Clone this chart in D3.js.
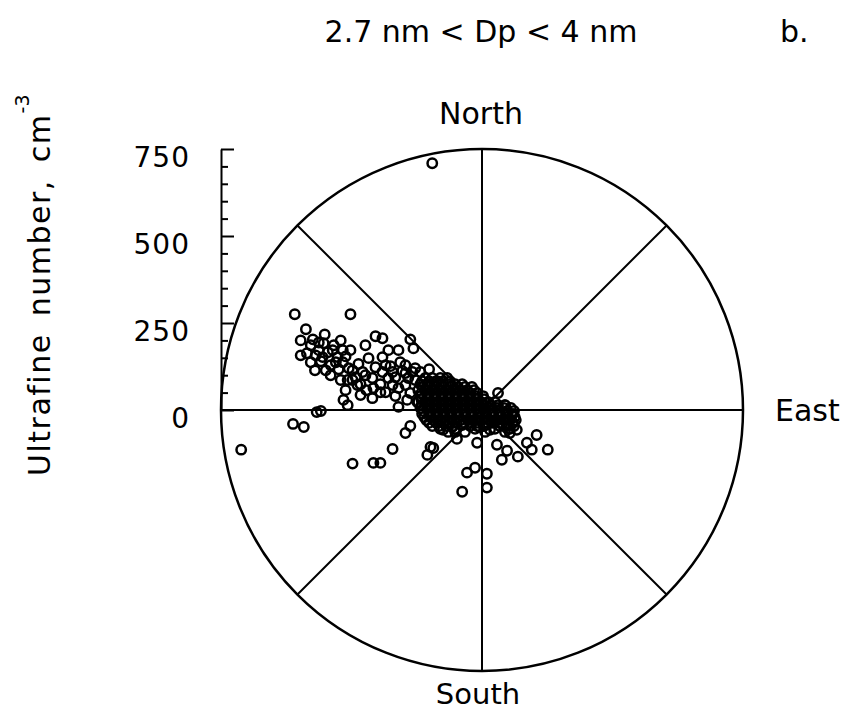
<!DOCTYPE html>
<html><head><meta charset="utf-8">
<script src="https://cdn.jsdelivr.net/npm/d3@7"></script>
<style>
html,body{margin:0;padding:0;background:#fff;}
svg text{font-family:"DejaVu Sans",sans-serif;fill:#000;}
</style></head>
<body><svg id="chart" width="856" height="726"></svg>
<script>
// ---- Data (east / north components of ultrafine number, cm^-3) ----
const titleText = "2.7 nm < Dp < 4 nm";
const panelLabel = "b.";
const yAxisLabel = "Ultrafine number, cm";
const directionLabels = ["North", "East", "South"];
const majorTicks = [0, 250, 500, 750];
const minorTicks = [50,100,150,200,300,350,400,450,550,600,650,700];
const maxValue = 750;
const sectorAngles = [0, 45, 90, 135, 180, 225, 270, 315];

// scattered points
const eastScatter = [-538,-378,-506,-452,-486,-426,-503,-469,-443,-415,-463,-435,-412,-480,-386,-392,-398,-475,-463,-543,-512,-692,-372,-312,-292,-257,
 -306,-286,-206,-197,-269,-240,-286,-326,-355,-383,-306,-335,-363,-152,-257,-229,-200,-177,-332,-312,-249,-315,-240,-129,-372,-386,-269,-249,
 -492,-478,-455,-420,-400,-349,-292,-277,-220,-206,-143,-215,-186,-220,-206,-157,-140,-148,-77,-72,-43,-20,-57,14,14,-14,46,
 43,72,57,103,157,129,143,189,89,100,80,-6,23,37,-112,-86,-57,-220,66,86,
 -235,-277,-257,-192,-378,-335,-406,-435,-521,-400,
 -521,-492,-458,-429,-392,-372,-343,-315,-286,-263,-220,-292,-240,-212,-192,-349,-449,-406,-469,-358];
const northScatter = [275,275,232,217,203,186,163,172,166,152,140,129,117,114,86,57,29,-6,-3,-40,-49,-114,-154,-152,-152,-112,
 212,206,203,177,172,172,152,149,132,120,123,100,94,117,109,112,109,109,57,63,40,34,9,83,86,14,92,94,
 186,157,192,137,137,74,74,51,72,49,709,29,23,-66,-46,-129,-109,-106,-63,-83,-180,-166,-235,-183,-223,-94,49,
 -100,-117,-143,-134,-72,-94,-114,-114,-37,-57,-66,-49,-57,-34,-57,-49,-43,106,14,-14,
 137,129,72,86,172,186,86,100,200,172,
 157,137,152,172,154,114,109,92,109,126,129,51,63,92,120,43,114,200,194,72];

// dense core near the origin (two interleaved rows of readings)
const eastCore = [-163,-143,-120,-100,
 -177,-157,-137,-117,-97,-77,-57,
 -183,-163,-143,-123,-103,-83,-63,-43,-23,
 -177,-157,-137,-117,-97,-77,-57,-37,-17,3,
 -183,-163,-143,-123,-103,-83,-63,-43,-23,-3,17,37,
 -177,-157,-137,-117,-97,-77,-57,-37,-17,3,23,43,63,83,
 -172,-152,-132,-112,-92,-72,-51,-31,-11,9,29,49,69,89,
 -160,-140,-120,-100,-80,-60,-40,-20,0,20,40,60,80,97,
 -143,-123,-103,-83,-34,-14,6,51,72,92,
 -97,-49,9,66,
 -172,-152,-132,-112,-92,
 -169,-149,-129,-109,-89,-69,-49,-29,
 -174,-154,-134,-114,-94,-74,-54,-34,-14,
 -174,-154,-134,-114,-94,-74,-54,-34,-14,6,
 -174,-154,-134,-114,-94,-74,-54,-34,-14,6,26,46,66,
 -169,-149,-129,-109,-89,-69,-49,-29,-9,11,31,51,72,92,
 -166,-146,-126,-106,-86,-66,-46,-26,-6,14,34,54,74,94,
 -152,-132,-112,-92,-72,-51,-31,-11,9,29,49,69,89,
 -120,-77,-20,37,80];
const northCore = [92,92,92,92,
 74,74,74,74,74,74,74,
 57,57,57,57,57,57,57,57,57,
 40,40,40,40,40,40,40,40,40,40,
 23,23,23,23,23,23,23,23,23,23,23,23,
 6,6,6,6,6,6,6,6,6,6,6,6,6,6,
 -11,-11,-11,-11,-11,-11,-11,-11,-11,-11,-11,-11,-11,-11,
 -29,-29,-29,-29,-29,-29,-29,-29,-29,-29,-29,-29,-29,-29,
 -46,-46,-46,-46,-46,-46,-46,-46,-46,-46,
 -63,-63,-63,-63,
 83,83,83,83,83,
 66,66,66,66,66,66,66,66,
 49,49,49,49,49,49,49,49,49,
 31,31,31,31,31,31,31,31,31,31,
 14,14,14,14,14,14,14,14,14,14,14,14,14,
 -3,-3,-3,-3,-3,-3,-3,-3,-3,-3,-3,-3,-3,-3,
 -20,-20,-20,-20,-20,-20,-20,-20,-20,-20,-20,-20,-20,-20,
 -37,-37,-37,-37,-37,-37,-37,-37,-37,-37,-37,-37,-37,
 -54,-54,-54,-54,-54];

// ---- Layout ----
const svg = d3.select("#chart");
const cx = 482, cy = 410, R = 261;
const x = d3.scaleLinear().domain([-maxValue, maxValue]).range([cx - R, cx + R]);
const y = d3.scaleLinear().domain([-maxValue, maxValue]).range([cy + R, cy - R]);
const r = d3.scaleLinear().domain([0, maxValue]).range([0, R]);

const g = svg.append("g");

// sector lines
g.selectAll("line.sector").data(sectorAngles).join("line")
  .attr("class", "sector")
  .attr("x1", cx).attr("y1", cy)
  .attr("x2", d => cx + r(maxValue) * Math.sin(d * Math.PI / 180))
  .attr("y2", d => cy - r(maxValue) * Math.cos(d * Math.PI / 180))
  .attr("stroke", "#000").attr("stroke-width", 2);

// outer circle
g.append("circle").attr("cx", cx).attr("cy", cy).attr("r", r(maxValue))
  .attr("fill", "none").attr("stroke", "#000").attr("stroke-width", 2.5);

// y axis (0..750) on the left edge
const yAxisScale = d3.scaleLinear().domain([0, maxValue]).range([cy, cy - R]);
const axisX = cx - R;
g.append("g").attr("transform", `translate(${axisX},0)`)
  .call(d3.axisLeft(yAxisScale).tickValues(minorTicks).tickSizeInner(-7).tickSizeOuter(0).tickFormat(""))
  .call(a => a.selectAll("line").attr("stroke", "#000").attr("stroke-width", 2))
  .call(a => a.select(".domain").attr("stroke", "#000").attr("stroke-width", 2));
g.append("g").attr("transform", `translate(${axisX},0)`)
  .call(d3.axisLeft(yAxisScale).tickValues(majorTicks).tickSizeInner(-13).tickSizeOuter(0).tickPadding(31))
  .call(a => a.select(".domain").remove())
  .call(a => a.selectAll("line").attr("stroke", "#000").attr("stroke-width", 2))
  .call(a => a.selectAll("text").attr("font-size", 28).attr("font-family", "DejaVu Sans")
     .attr("letter-spacing", 1).attr("dy", "0.62em"));

// points
const pts = eastScatter.map((e, i) => [e, northScatter[i]])
  .concat(eastCore.map((e, i) => [e, northCore[i]]));
g.selectAll("circle.pt").data(pts).join("circle")
  .attr("class", "pt")
  .attr("cx", d => x(d[0])).attr("cy", d => y(d[1])).attr("r", 4.7)
  .attr("fill", "none").attr("stroke", "#000").attr("stroke-width", 2.5);

// texts
svg.append("text").attr("x", 481).attr("y", 42).attr("text-anchor", "middle")
  .attr("font-size", 30).text(titleText);
svg.append("text").attr("x", 780).attr("y", 42).attr("font-size", 30).text(panelLabel);
svg.append("text").attr("x", 481).attr("y", 124).attr("text-anchor", "middle")
  .attr("font-size", 30).text(directionLabels[0]);
svg.append("text").attr("x", 775).attr("y", 421).attr("font-size", 30).text(directionLabels[1]);
svg.append("text").attr("x", 478).attr("y", 704).attr("text-anchor", "middle")
  .attr("font-size", 29).text(directionLabels[2]);

const yl = svg.append("text").attr("transform", "translate(50,476) rotate(-90)")
  .attr("text-anchor", "start").attr("font-size", 30)
  .attr("letter-spacing", 1.5).attr("word-spacing", 6);
yl.append("tspan").text(yAxisLabel);
yl.append("tspan").attr("dy", -21).attr("font-size", 19).attr("letter-spacing", 0).text("-3");
</script></body></html>
